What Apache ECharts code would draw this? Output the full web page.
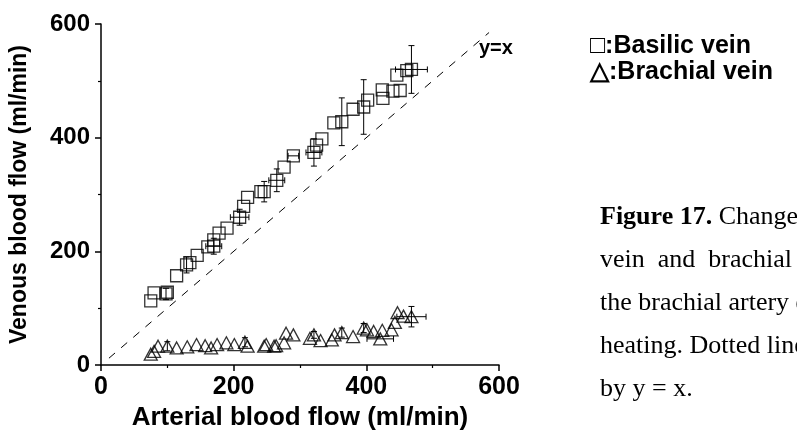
<!DOCTYPE html>
<html><head><meta charset="utf-8">
<script src="https://cdn.jsdelivr.net/npm/echarts@6/dist/echarts.min.js"></script>
<style>html,body{margin:0;padding:0;background:#fff}#c{width:797px;height:436px}</style>
</head><body><div id="c"></div>
<script>
// Basilic vein (squares)
const basilicX = [75,80,98,100,114,129,134,145,161,170,170,178,190,209,215,221,241,246,265,276,290,321,325,333,351,363,380,396,402,424,425,440,446,451,461,468];
const basilicY = [113,127,125,128,157,176,180,193,208,209,220,232,241,260,279,295,305,305,325,348,368,374,387,398,426,428,450,454,466,484,469,482,510,483,518,520];
const basilicXErr = [0,0,0,0,0,0,0,0,0,12,0,0,0,14,0,0,0,0,12,0,8,12,0,0,0,0,0,0,0,0,0,0,0,0,0,24];
const basilicYErr = [0,0,10,0,0,14,0,0,0,14,0,0,0,14,0,0,0,18,20,0,0,24,0,0,0,42,0,48,0,0,0,0,0,0,0,42];
// Brachial vein (triangles)
const brachialX = [75,80,86,100,114,130,144,157,166,175,189,201,217,221,246,249,261,264,276,279,290,315,321,331,348,352,363,380,396,401,411,421,424,438,443,447,456,468];
const brachialY = [19,24,33,33,30,32,36,34,30,36,39,36,40,33,33,36,33,34,39,56,53,47,53,43,44,53,57,50,65,62,59,46,61,62,75,92,86,85];
const brachialXErr = [0,0,0,0,0,0,0,0,0,0,0,0,0,0,0,0,0,0,0,0,0,0,0,0,0,0,0,0,0,0,0,20,0,0,0,0,0,22];
const brachialYErr = [0,0,0,8,0,0,0,0,0,0,0,0,8,0,0,0,0,0,0,0,0,0,6,0,0,0,8,0,8,0,0,0,0,0,0,0,0,18];
// identity line
const identityLine = [[12,12],[585,585]];
const xTicks = [0,200,400,600];
const yTicks = [0,200,400,600];
const legendLines = ['\u25A1:Basilic vein','\u25B3:Brachial vein'];
const captionLines = [
  ['Figure 17.',' Changes in the blood flow of the basilic'],
  ['','vein  and  brachial  vein  with  the  blood  flow  in'],
  ['','the brachial artery during the local'],
  ['','heating. Dotted line shows the relation given'],
  ['','by y = x.']
];

const zip = (xs, ys, ex, ey) => xs.map((x, i) => [x, ys[i], ex ? ex[i] : 0, ey ? ey[i] : 0]);
const basilicData = zip(basilicX, basilicY, basilicXErr, basilicYErr);
const brachialData = zip(brachialX, brachialY, brachialXErr, brachialYErr);

function errRender(params, api) {
  const x = api.value(0), y = api.value(1), ex = api.value(2), ey = api.value(3);
  const children = [];
  const st = {stroke:'#000', lineWidth:1};
  const cap = 3;
  if (ey > 0) {
    const top = api.coord([x, y + ey]), bot = api.coord([x, y - ey]);
    children.push({type:'line', shape:{x1:top[0],y1:top[1],x2:bot[0],y2:bot[1]}, style:st});
    children.push({type:'line', shape:{x1:top[0]-cap,y1:top[1],x2:top[0]+cap,y2:top[1]}, style:st});
    children.push({type:'line', shape:{x1:bot[0]-cap,y1:bot[1],x2:bot[0]+cap,y2:bot[1]}, style:st});
  }
  if (ex > 0) {
    const l = api.coord([x - ex, y]), r = api.coord([x + ex, y]);
    children.push({type:'line', shape:{x1:l[0],y1:l[1],x2:r[0],y2:r[1]}, style:st});
    children.push({type:'line', shape:{x1:l[0],y1:l[1]-cap,x2:l[0],y2:l[1]+cap}, style:st});
    children.push({type:'line', shape:{x1:r[0],y1:r[1]-cap,x2:r[0],y2:r[1]+cap}, style:st});
  }
  return {type:'group', children};
}

const sans = 'Liberation Sans, Arial, sans-serif';
const serif = 'Liberation Serif, Times New Roman, serif';
const axisCommon = {
  type:'value', min:0, max:600, interval:200,
  axisLine:{show:true, onZero:false, lineStyle:{color:'#000', width:1.5}},
  axisTick:{show:true, length:6, lineStyle:{color:'#000', width:1.5}},
  minorTick:{show:true, splitNumber:2, length:3, lineStyle:{color:'#000', width:1.2}},
  splitLine:{show:false},
  nameLocation:'middle'
};

const chart = echarts.init(document.getElementById('c'), null, {renderer:'canvas'});
const option = {
  animation:false,
  backgroundColor:'#fff',
  grid:{left:99, right:298, top:24, bottom:66, containLabel:false},
  xAxis: Object.assign({}, axisCommon, {
    name:'Arterial blood flow (ml/min)', nameGap:40,
    nameTextStyle:{color:'#000', fontFamily:sans, fontWeight:'bold', fontSize:26},
    axisLabel:{color:'#000', fontFamily:sans, fontWeight:'bold', fontSize:25, margin:10,
      formatter: v => xTicks.includes(v) ? String(v) : ''}
  }),
  yAxis: Object.assign({}, axisCommon, {
    name:'Venous blood flow (ml/min)', nameGap:70,
    nameTextStyle:{color:'#000', fontFamily:sans, fontWeight:'bold', fontSize:23},
    axisLabel:{color:'#000', fontFamily:sans, fontWeight:'bold', fontSize:24, margin:11,
      formatter: v => yTicks.includes(v) ? String(v) : ''}
  }),
  series:[
    {type:'line', data:identityLine, symbol:'none', silent:true,
     lineStyle:{color:'#000', width:1, type:[8,8]}, z:1},
    {type:'custom', renderItem:errRender, data:basilicData, z:2, silent:true},
    {type:'custom', renderItem:errRender, data:brachialData, z:2, silent:true},
    {type:'scatter', data:basilicData, symbol:'rect', symbolSize:12,
     itemStyle:{color:'rgba(255,255,255,0)', borderColor:'#000', borderWidth:1.3}, z:3},
    {type:'scatter', data:brachialData, symbol:'triangle', symbolSize:[13,12],
     itemStyle:{color:'rgba(255,255,255,0)', borderColor:'#000', borderWidth:1.3}, z:3}
  ],
  graphic:[
    {type:'text', left:479, top:38, style:{text:'y=x', font:'bold 20px '+sans, fill:'#000'}},
    {type:'text', left:590, top:34, style:{text:legendLines[0], font:'bold 25px '+sans, fill:'#000'}},
    {type:'text', left:590, top:60, style:{text:legendLines[1], font:'bold 25px '+sans, fill:'#000'}}
  ].concat(captionLines.map((ln, i) => ({
    type:'text', left:600, top:204 + i*43,
    style:{text:(ln[0] ? '{b|'+ln[0]+'}' : '') + '{r|'+ln[1]+'}',
      rich:{b:{font:'bold 26px '+serif, fill:'#000'}, r:{font:'26px '+serif, fill:'#000'}}}
  })))
};
chart.setOption(option);
</script></body></html>
